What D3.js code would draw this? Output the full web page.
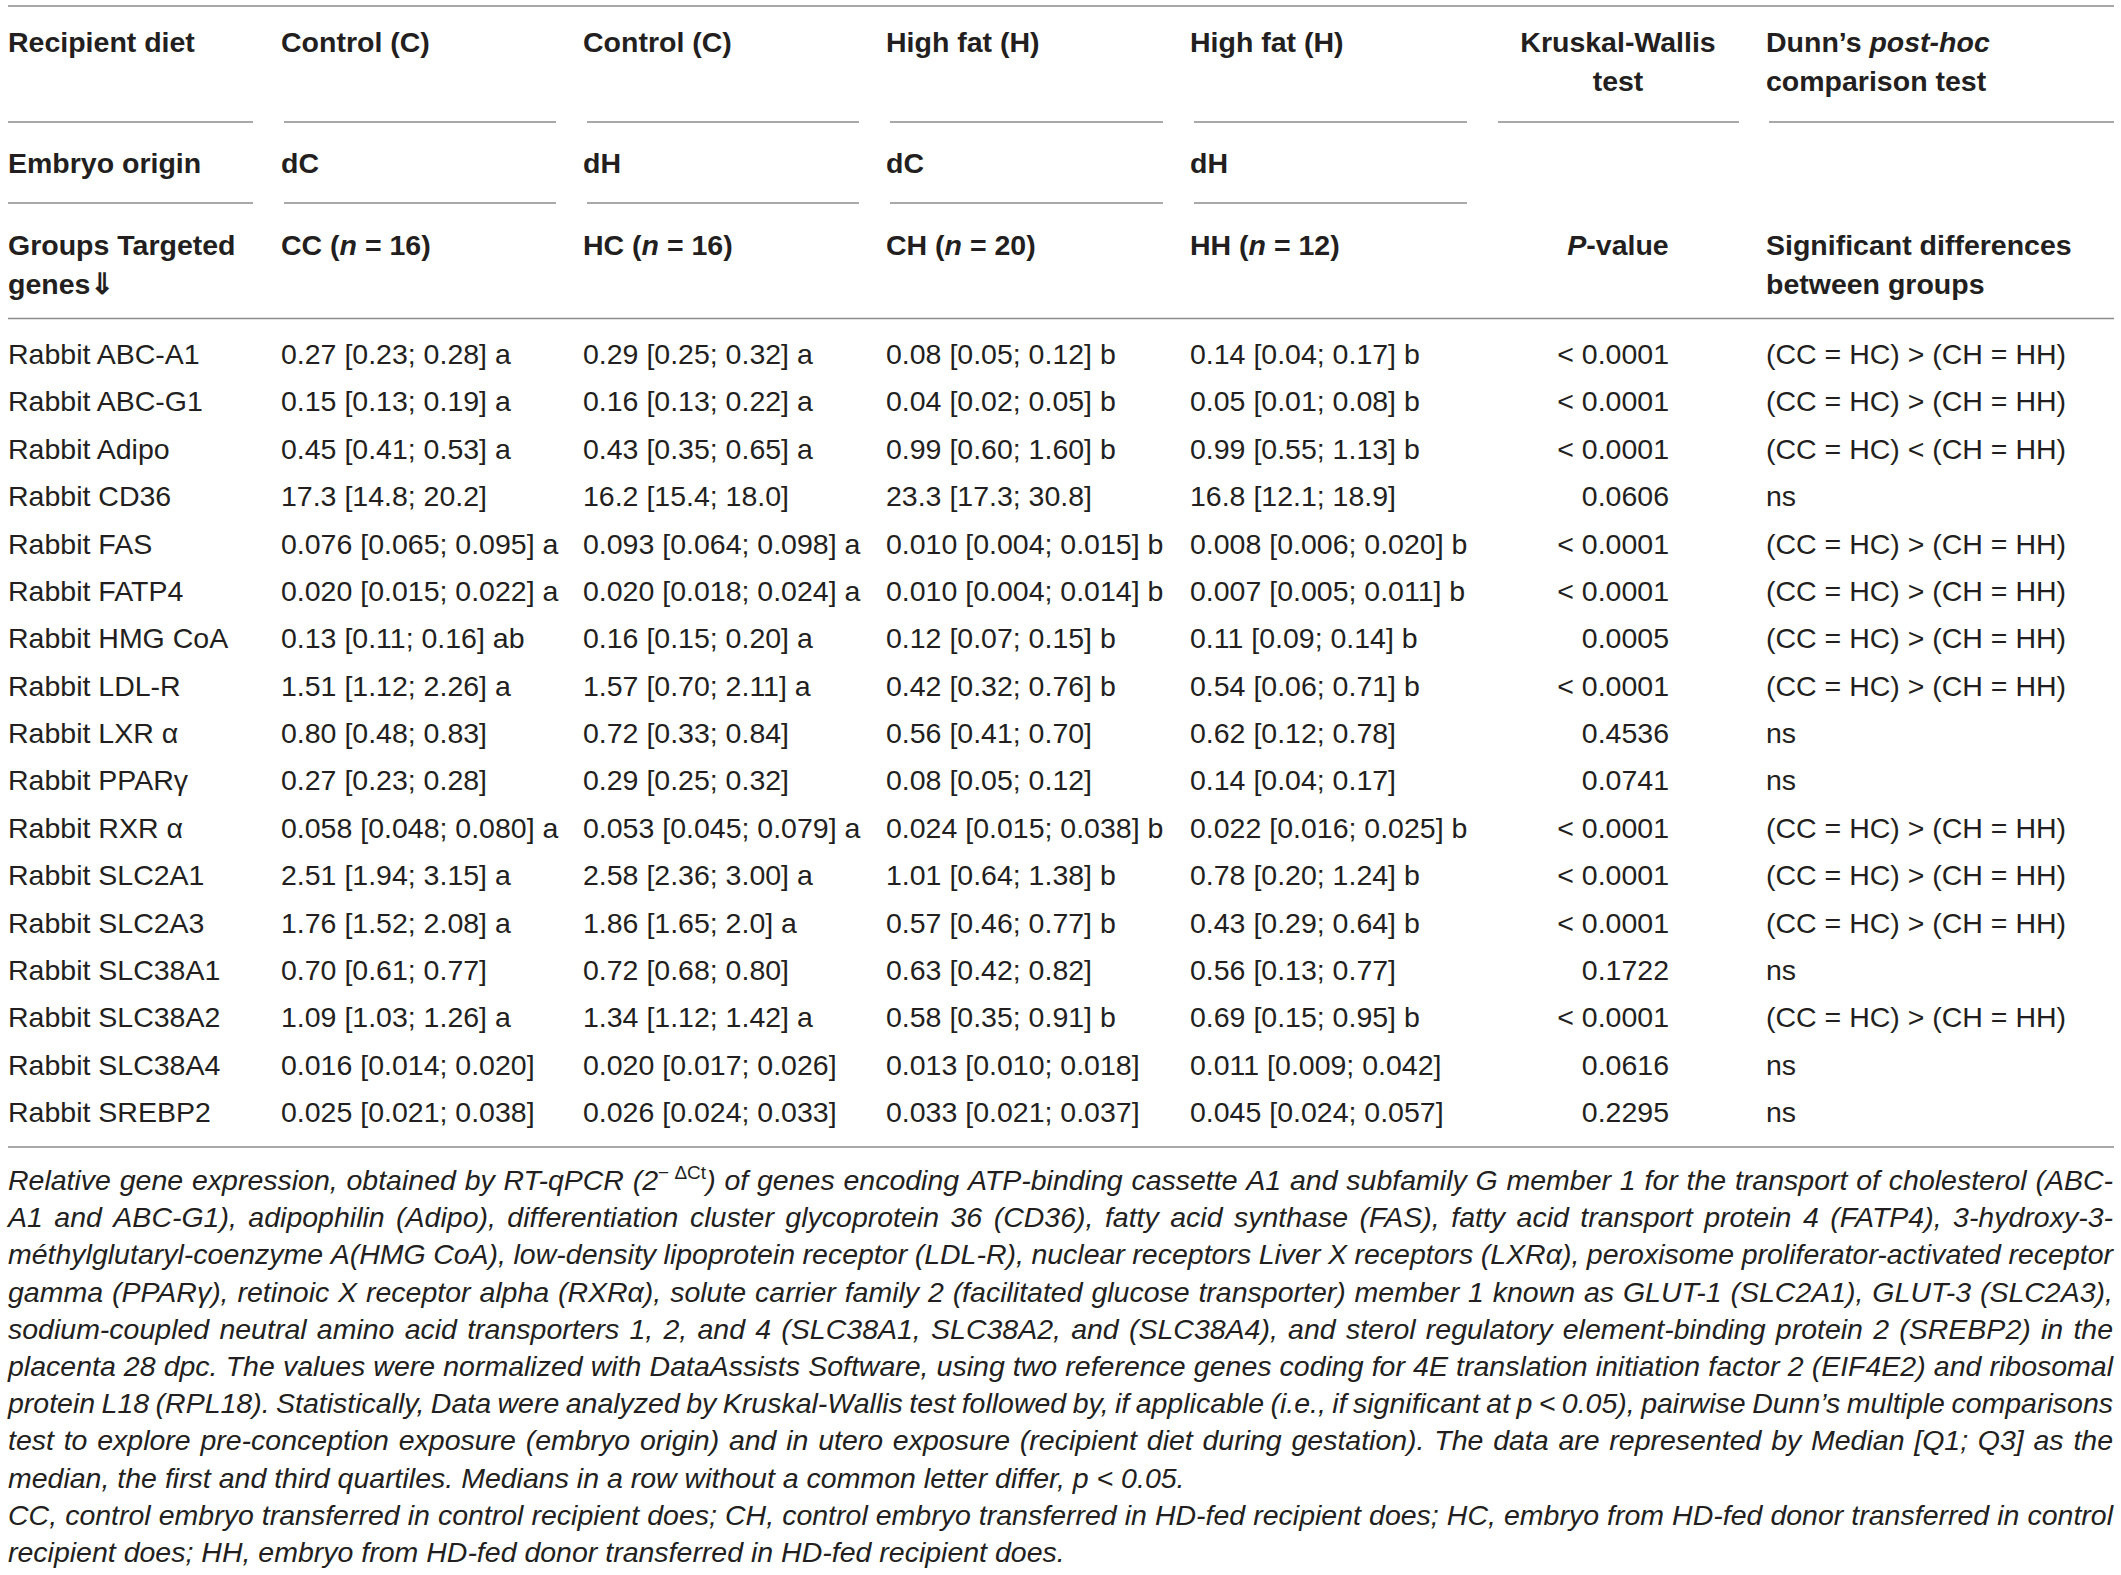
<!DOCTYPE html>
<html><head><meta charset="utf-8">
<script src="https://cdn.jsdelivr.net/npm/d3@7"></script>
<style>
body{margin:0;background:#fff}
svg{display:block}
text{font-family:"Liberation Sans",Arial,Helvetica,sans-serif;fill:#231f20;font-size:28.5px}
</style>
</head><body>
<svg id="c" width="2121" height="1575"></svg>
<script>
// ---------- DATA ----------
const genes = ["Rabbit ABC-A1","Rabbit ABC-G1","Rabbit Adipo","Rabbit CD36","Rabbit FAS","Rabbit FATP4","Rabbit HMG CoA","Rabbit LDL-R","Rabbit LXR α","Rabbit PPARγ","Rabbit RXR α","Rabbit SLC2A1","Rabbit SLC2A3","Rabbit SLC38A1","Rabbit SLC38A2","Rabbit SLC38A4","Rabbit SREBP2"];
const groupKeys = ["CC","HC","CH","HH"];
const recipientDiet = ["Control (C)","Control (C)","High fat (H)","High fat (H)"];
const embryoOrigin = ["dC","dH","dC","dH"];
const groupN = [16,16,20,12];
const valuesCC = ["0.27 [0.23; 0.28] a","0.15 [0.13; 0.19] a","0.45 [0.41; 0.53] a","17.3 [14.8; 20.2]","0.076 [0.065; 0.095] a","0.020 [0.015; 0.022] a","0.13 [0.11; 0.16] ab","1.51 [1.12; 2.26] a","0.80 [0.48; 0.83]","0.27 [0.23; 0.28]","0.058 [0.048; 0.080] a","2.51 [1.94; 3.15] a","1.76 [1.52; 2.08] a","0.70 [0.61; 0.77]","1.09 [1.03; 1.26] a","0.016 [0.014; 0.020]","0.025 [0.021; 0.038]"];
const valuesHC = ["0.29 [0.25; 0.32] a","0.16 [0.13; 0.22] a","0.43 [0.35; 0.65] a","16.2 [15.4; 18.0]","0.093 [0.064; 0.098] a","0.020 [0.018; 0.024] a","0.16 [0.15; 0.20] a","1.57 [0.70; 2.11] a","0.72 [0.33; 0.84]","0.29 [0.25; 0.32]","0.053 [0.045; 0.079] a","2.58 [2.36; 3.00] a","1.86 [1.65; 2.0] a","0.72 [0.68; 0.80]","1.34 [1.12; 1.42] a","0.020 [0.017; 0.026]","0.026 [0.024; 0.033]"];
const valuesCH = ["0.08 [0.05; 0.12] b","0.04 [0.02; 0.05] b","0.99 [0.60; 1.60] b","23.3 [17.3; 30.8]","0.010 [0.004; 0.015] b","0.010 [0.004; 0.014] b","0.12 [0.07; 0.15] b","0.42 [0.32; 0.76] b","0.56 [0.41; 0.70]","0.08 [0.05; 0.12]","0.024 [0.015; 0.038] b","1.01 [0.64; 1.38] b","0.57 [0.46; 0.77] b","0.63 [0.42; 0.82]","0.58 [0.35; 0.91] b","0.013 [0.010; 0.018]","0.033 [0.021; 0.037]"];
const valuesHH = ["0.14 [0.04; 0.17] b","0.05 [0.01; 0.08] b","0.99 [0.55; 1.13] b","16.8 [12.1; 18.9]","0.008 [0.006; 0.020] b","0.007 [0.005; 0.011] b","0.11 [0.09; 0.14] b","0.54 [0.06; 0.71] b","0.62 [0.12; 0.78]","0.14 [0.04; 0.17]","0.022 [0.016; 0.025] b","0.78 [0.20; 1.24] b","0.43 [0.29; 0.64] b","0.56 [0.13; 0.77]","0.69 [0.15; 0.95] b","0.011 [0.009; 0.042]","0.045 [0.024; 0.057]"];
const pValues = ["< 0.0001","< 0.0001","< 0.0001","0.0606","< 0.0001","< 0.0001","0.0005","< 0.0001","0.4536","0.0741","< 0.0001","< 0.0001","< 0.0001","0.1722","< 0.0001","0.0616","0.2295"];
const postHoc = ["(CC = HC) > (CH = HH)","(CC = HC) > (CH = HH)","(CC = HC) < (CH = HH)","ns","(CC = HC) > (CH = HH)","(CC = HC) > (CH = HH)","(CC = HC) > (CH = HH)","(CC = HC) > (CH = HH)","ns","ns","(CC = HC) > (CH = HH)","(CC = HC) > (CH = HH)","(CC = HC) > (CH = HH)","ns","(CC = HC) > (CH = HH)","ns","ns"];
const footnoteLines = [
 ["Relative gene expression, obtained by RT-qPCR (2^{−\u00a0ΔCt}) of genes encoding ATP-binding cassette A1 and subfamily G member 1 for the transport of cholesterol (ABC-", true],
 ["A1 and ABC-G1), adipophilin (Adipo), differentiation cluster glycoprotein 36 (CD36), fatty acid synthase (FAS), fatty acid transport protein 4 (FATP4), 3-hydroxy-3-", true],
 ["méthylglutaryl-coenzyme A(HMG CoA), low-density lipoprotein receptor (LDL-R), nuclear receptors Liver X receptors (LXRα), peroxisome proliferator-activated receptor", true],
 ["gamma (PPARγ), retinoic X receptor alpha (RXRα), solute carrier family 2 (facilitated glucose transporter) member 1 known as GLUT-1 (SLC2A1), GLUT-3 (SLC2A3),", true],
 ["sodium-coupled neutral amino acid transporters 1, 2, and 4 (SLC38A1, SLC38A2, and (SLC38A4), and sterol regulatory element-binding protein 2 (SREBP2) in the", true],
 ["placenta 28 dpc. The values were normalized with DataAssists Software, using two reference genes coding for 4E translation initiation factor 2 (EIF4E2) and ribosomal", true],
 ["protein L18 (RPL18). Statistically, Data were analyzed by Kruskal-Wallis test followed by, if applicable (i.e., if significant at p < 0.05), pairwise Dunn’s multiple comparisons", true],
 ["test to explore pre-conception exposure (embryo origin) and in utero exposure (recipient diet during gestation). The data are represented by Median [Q1; Q3] as the", true],
 ["median, the first and third quartiles. Medians in a row without a common letter differ, p < 0.05.", false],
 ["CC, control embryo transferred in control recipient does; CH, control embryo transferred in HD-fed recipient does; HC, embryo from HD-fed donor transferred in control", true],
 ["recipient does; HH, embryo from HD-fed donor transferred in HD-fed recipient does.", false]
];

// ---------- LAYOUT ----------
const svg = d3.select("#c");
const W = 2121, L = 8, R = 2114;
const groupValues = [valuesCC, valuesHC, valuesCH, valuesHH];
const colX = d3.scaleOrdinal().domain(groupKeys).range([281, 583, 886, 1190]);
const geneX = 8, pX = 1669, pHeadX = 1618, phX = 1766;
const rowY = d3.scaleLinear().domain([0, genes.length - 1]).range([364, 1122]);
const lineColor = "#8c8c8c";

function hline(x1, x2, y) {
  svg.append("line").attr("x1", x1).attr("x2", x2).attr("y1", y).attr("y2", y)
    .attr("stroke", lineColor).attr("stroke-width", 1.6);
}
// rules
hline(L, R, 6);
const segs = [[8,253],[284,556],[587,859],[890,1163],[1194,1467],[1498,1739],[1769,2114]];
segs.forEach(s => hline(s[0], s[1], 122));
segs.slice(0,5).forEach(s => hline(s[0], s[1], 203));
hline(L, R, 318.5);
hline(L, R, 1147);

// header
const hdr = svg.append("g").attr("font-weight", "bold");
function htext(x, y, parts, anchor) {
  const t = hdr.append("text").attr("x", x).attr("y", y).attr("text-anchor", anchor || "start").style("font-weight","bold");
  parts.forEach(p => {
    const ts = t.append("tspan").text(typeof p === "string" ? p : p.t);
    if (typeof p !== "string" && p.i) ts.attr("font-style", "italic");
  });
  return t;
}
const yA = 52, yA2 = 91, yB = 173, yC = 255, yC2 = 294;
htext(geneX, yA, ["Recipient diet"]);
htext(geneX, yB, ["Embryo origin"]);
htext(geneX, yC, ["Groups Targeted"]);
htext(geneX, yC2, ["genes⇓"]);
groupKeys.forEach((k, i) => {
  htext(colX(k), yA, [recipientDiet[i]]);
  htext(colX(k), yB, [embryoOrigin[i]]);
  htext(colX(k), yC, [k + " (", {t:"n", i:true}, " = " + groupN[i] + ")"]);
});
htext(pHeadX, yA, ["Kruskal-Wallis"], "middle");
htext(pHeadX, yA2, ["test"], "middle");
htext(pHeadX, yC, [{t:"P", i:true}, "-value"], "middle");
htext(phX, yA, ["Dunn’s ", {t:"post-hoc", i:true}]);
htext(phX, yA2, ["comparison test"]);
htext(phX, yC, ["Significant differences"]);
htext(phX, yC2, ["between groups"]);

// body rows
const body = svg.append("g");
body.selectAll("text.gene").data(genes).join("text").attr("class","gene")
  .attr("x", geneX).attr("y", (d, i) => rowY(i)).text(d => d);
groupKeys.forEach((k, gi) => {
  body.selectAll("text.v" + k).data(groupValues[gi]).join("text").attr("class", "v" + k)
    .attr("x", colX(k)).attr("y", (d, i) => rowY(i)).text(d => d);
});
body.selectAll("text.p").data(pValues).join("text").attr("class","p")
  .attr("x", pX).attr("y", (d, i) => rowY(i)).attr("text-anchor","end").text(d => d);
body.selectAll("text.ph").data(postHoc).join("text").attr("class","ph")
  .attr("x", phX).attr("y", (d, i) => rowY(i)).text(d => d);

// footnote (justified)
const fn = svg.append("g");
const fnY = d3.scaleLinear().domain([0, footnoteLines.length - 1]).range([1190, 1562]);
const spaceW = 0.278 * 28.5;
footnoteLines.forEach(([line, just], li) => {
  const y = fnY(li);
  const words = line.split(" ");
  const nodes = words.map(w => {
    const t = fn.append("text").attr("x", 0).attr("y", y).attr("font-style", "italic");
    const m = w.match(/^(.*)\^\{(.*)\}(.*)$/);
    if (m) {
      t.append("tspan").text(m[1]);
      t.append("tspan").attr("dy", -11).attr("font-size", 19).attr("font-style","normal").text(m[2]);
      t.append("tspan").attr("dy", 11).text(m[3]);
    } else t.text(w);
    return t;
  });
  const widths = nodes.map(t => t.node().getComputedTextLength());
  const total = d3.sum(widths);
  const gap = just ? (R - 1 - L - total) / (words.length - 1) : spaceW;
  let x = L;
  nodes.forEach((t, i) => { t.attr("x", x); t.selectAll("tspan").filter((d,j)=>j===0).attr("x", x); x += widths[i] + gap; });
});
</script>
</body></html>
